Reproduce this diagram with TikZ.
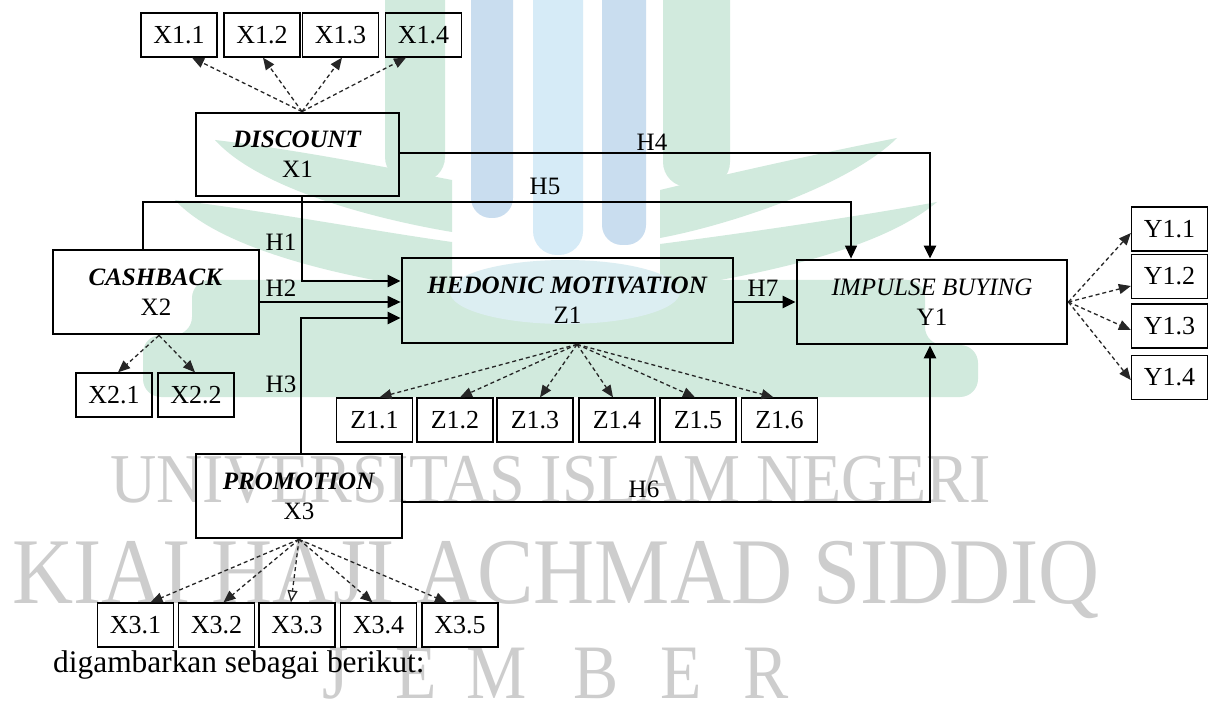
\documentclass[tikz,border=0pt]{standalone}
\usepackage{fontspec}
\setmainfont{Liberation Serif}
\usetikzlibrary{arrows.meta,calc}
\definecolor{wmgreen}{HTML}{D1EADD}
\definecolor{wmblue}{HTML}{D6EBF7}
\definecolor{wmbluedk}{HTML}{C9DDEF}
\definecolor{wmpale}{HTML}{DCEEF2}
\definecolor{wmgray}{HTML}{CDCDCD}
\begin{document}
\begin{tikzpicture}[x=1pt,y=-1pt,
  every node/.style={font=\fontsize{25}{30}\selectfont},
  mainbox/.style={draw=black, line width=2.8pt, inner sep=0pt, align=center, minimum height=84pt},
  smallbox/.style={draw=black, line width=1.3pt, inner sep=0pt, minimum width=76pt, minimum height=44pt, font=\fontsize{26}{30}\selectfont},
  conn/.style={line width=2.8pt, -{Triangle[length=13pt,width=12pt]}},
  thinconn/.style={line width=1.3pt, -{Triangle[length=13pt,width=12pt]}},
  ind/.style={line width=1.3pt, draw=black!85, dash pattern=on 4pt off 3pt, -{Triangle[length=12pt,width=10pt]}},
  indopen/.style={line width=1.3pt, draw=black!85, dash pattern=on 4pt off 3pt, -{Triangle[open,length=12pt,width=10pt]}},
  lab/.style={inner sep=0pt},
  wmtext/.style={text=wmgray, inner sep=0pt, text depth=0pt}
]
\useasboundingbox (0,0) rectangle (1216,711);
\fill[white] (0,0) rectangle (1216,711);

% ---------- watermark logo (approximation) ----------
\begin{scope}
\clip (0,0) rectangle (1216,711);
\fill[wmbluedk, rounded corners=20pt] (471,-40) rectangle (513,218);
\fill[wmblue, rounded corners=24pt] (533,-40) rectangle (583,255);
\fill[wmbluedk, rounded corners=20pt] (602,-40) rectangle (646,245);
\fill[wmgreen, rounded corners=25pt] (385,-40) rectangle (445,182);
\fill[wmgreen, rounded corners=25pt] (663,-40) rectangle (730,187);
% left leaves
\fill[wmgreen] (215,140) .. controls (300,150) and (400,170) .. (452,180) -- (452,232) .. controls (380,220) and (260,190) .. (215,140) -- cycle;
\fill[wmgreen] (175,200) .. controls (260,210) and (380,232) .. (452,242) -- (452,292) .. controls (350,280) and (220,250) .. (175,200) -- cycle;
% right leaves
\fill[wmgreen] (897,138) .. controls (810,155) and (710,178) .. (660,190) -- (660,238) .. controls (730,225) and (850,185) .. (897,138) -- cycle;
\fill[wmgreen] (937,202) .. controls (850,218) and (730,235) .. (660,244) -- (660,290) .. controls (760,275) and (880,250) .. (937,202) -- cycle;
% main green mass
\fill[wmgreen, rounded corners=18pt] (192,280) -- (925,280) -- (925,345) -- (978,345) -- (978,397) -- (143,397) -- (143,335) -- (192,335) -- cycle;
\fill[wmpale] (565,292) ellipse [x radius=115, y radius=32];
\end{scope}

% ---------- watermark text ----------
\node[wmtext, anchor=base west, font=\fontsize{70}{70}\selectfont, xscale=0.915] (wm1) at (110,502) {UNIVERSITAS ISLAM NEGERI};
\node[wmtext, anchor=base west, font=\fontsize{94}{94}\selectfont, xscale=0.9] (wm2) at (12,603) {KIAI HAJI ACHMAD SIDDIQ};
\foreach \ch/\cx [count=\i] in {J/336,E/416,M/497,B/596,E/681,R/766}
  \node[wmtext, anchor=base, font=\fontsize{77}{77}\selectfont, xscale=0.88] (wmj\i) at (\cx,698) {\ch};

% ---------- main boxes ----------
\node[mainbox, minimum width=203pt, minimum height=83pt] (disc) at (297.5,154.5) {\textbf{\textit{DISCOUNT}}\\X1};
\node[mainbox, minimum width=206pt] (cash) at (156,292) {\textbf{\textit{CASHBACK}}\\X2};
\node[mainbox, minimum width=331pt, minimum height=85pt] (hm) at (567.5,300.5) {\textbf{\textit{HEDONIC MOTIVATION}}\\Z1};
\node[mainbox, minimum width=270pt] (imp) at (932,302) {\textit{IMPULSE BUYING}\\Y1};
\node[mainbox, minimum width=206pt] (prom) at (299,496) {\textbf{\textit{PROMOTION}}\\X3};

% ---------- indicator boxes ----------
\node[smallbox] (x11) at (179,35) {X1.1};
\node[smallbox] (x12) at (262,35) {X1.2};
\node[smallbox] (x13) at (340.5,35) {X1.3};
\node[smallbox] (x14) at (423.5,35) {X1.4};

\node[smallbox] (x21) at (114,395) {X2.1};
\node[smallbox] (x22) at (196,395) {X2.2};

\node[smallbox] (z11) at (374.5,420) {Z1.1};
\node[smallbox] (z12) at (455,420) {Z1.2};
\node[smallbox] (z13) at (535,420) {Z1.3};
\node[smallbox] (z14) at (617,420) {Z1.4};
\node[smallbox] (z15) at (698,420) {Z1.5};
\node[smallbox] (z16) at (779.5,420) {Z1.6};

\node[smallbox] (y11) at (1169.5,229) {Y1.1};
\node[smallbox] (y12) at (1169.5,276.5) {Y1.2};
\node[smallbox] (y13) at (1169.5,326) {Y1.3};
\node[smallbox] (y14) at (1169.5,377.5) {Y1.4};

\node[smallbox] (x31) at (135.5,625) {X3.1};
\node[smallbox] (x32) at (216.5,625) {X3.2};
\node[smallbox] (x33) at (297,625) {X3.3};
\node[smallbox] (x34) at (378.5,625) {X3.4};
\node[smallbox] (x35) at (460,625) {X3.5};

% ---------- indicator arrows ----------
\draw[ind] ([xshift=4.5pt]disc.north) -- ([xshift=13pt]x11.south);
\draw[ind] ([xshift=4.5pt]disc.north) -- ([xshift=1pt]x12.south);
\draw[ind] ([xshift=4.5pt]disc.north) -- ([xshift=1.5pt]x13.south);
\draw[ind] ([xshift=4.5pt]disc.north) -- ([xshift=-17.5pt]x14.south);

\draw[ind] ([xshift=3pt]cash.south) -- ([xshift=4pt]x21.north);
\draw[ind] ([xshift=3pt]cash.south) -- ([xshift=-1pt]x22.north);

\draw[ind] ([xshift=9.5pt]hm.south) -- ([xshift=5pt]z11.north);
\draw[ind] ([xshift=9.5pt]hm.south) -- ([xshift=5pt]z12.north);
\draw[ind] ([xshift=9.5pt]hm.south) -- ([xshift=5pt]z13.north);
\draw[ind] ([xshift=9.5pt]hm.south) -- ([xshift=-4pt]z14.north);
\draw[ind] ([xshift=9.5pt]hm.south) -- ([xshift=-3pt]z15.north);
\draw[ind] ([xshift=9.5pt]hm.south) -- ([xshift=-6pt]z16.north);

\draw[ind] (imp.east) -- ([yshift=-4pt]y11.west);
\draw[ind] (imp.east) -- ([yshift=-9.5pt]y12.west);
\draw[ind] (imp.east) -- ([yshift=-4pt]y13.west);
\draw[ind] (imp.east) -- ([yshift=-2.5pt]y14.west);

\draw[ind] (prom.south) -- ([xshift=15pt]x31.north);
\draw[ind] (prom.south) -- ([xshift=7pt]x32.north);
\draw[indopen] (prom.south) -- ([xshift=-6pt]x33.north);
\draw[ind] (prom.south) -- ([xshift=-6pt]x34.north);
\draw[ind] (prom.south) -- ([xshift=-13pt]x35.north);

% ---------- structural paths ----------
\coordinate (h5c) at (851,202);
\draw[conn] ([yshift=1.5pt]disc.east) -| ([xshift=-2pt]imp.north);
\draw[thinconn] ([xshift=-13pt]cash.north) |- (h5c) -- (h5c |- imp.north);
\draw[conn] ([xshift=4.5pt]disc.south) |- ([yshift=19.5pt]hm.west);
\draw[thinconn] ([yshift=-10pt]cash.east) -- ([yshift=-10pt]cash.east -| hm.west);
\draw[conn] ([xshift=2pt]prom.north) |- ([yshift=-17.5pt]hm.west);
\draw[conn] ([yshift=-6pt]prom.east) -| ([xshift=-2pt]imp.south);
\draw[conn] ([yshift=-1.5pt]hm.east) -- ([yshift=-1.5pt]hm.east -| imp.west);

% ---------- path labels ----------
\node[lab] (h1) at (281,242) {H1};
\node[lab] (h2) at (281,288) {H2};
\node[lab] (h3) at (281,384) {H3};
\node[lab] (h4) at (652,142) {H4};
\node[lab] (h5) at (545,186) {H5};
\node[lab] (h6) at (644,489) {H6};
\node[lab] (h7) at (763,288) {H7};

% ---------- caption text ----------
\node[anchor=base west, inner sep=0pt, font=\fontsize{31.4}{36}\selectfont] (cap) at (53,672) {digambarkan sebagai berikut:};
\end{tikzpicture}
\end{document}
